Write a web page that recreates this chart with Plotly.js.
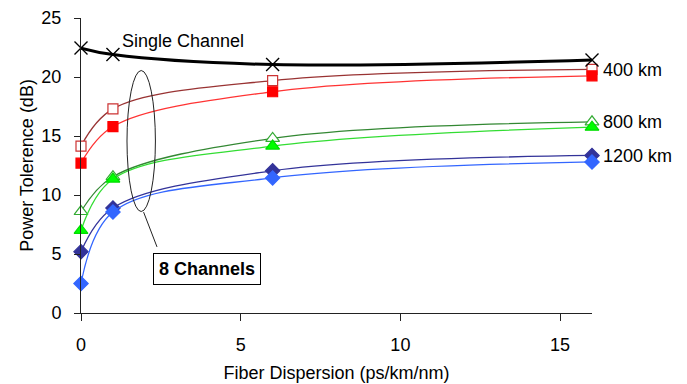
<!DOCTYPE html>
<html>
<head>
<meta charset="utf-8">
<script src="https://cdn.plot.ly/plotly-3.0.1.min.js"></script>
<style>html,body{margin:0;padding:0;background:#fff;}#chart{width:687px;height:384px;}</style>
</head>
<body>
<div id="chart"></div>
<script>
const dispersion = [0, 1, 6, 16];
const singleChannel = [22.45, 21.9, 21.05, 21.45];
const ch8_400_open = [14.15, 17.3, 19.7, 20.65];
const ch8_400_fill = [12.7, 15.8, 18.75, 20.1];
const ch8_800_open = [8.6, 11.55, 14.8, 16.2];
const ch8_800_fill = [7.0, 11.35, 14.15, 15.75];
const ch8_1200_navy = [5.2, 8.9, 12.05, 13.35];
const ch8_1200_blue = [2.5, 8.55, 11.45, 12.8];
const xTicks = [0, 5, 10, 15];
const yTicks = [0, 5, 10, 15, 20, 25];
const distLabels = ["400 km", "800 km", "1200 km"];
const distLabelY = [20.6, 16.2, 13.3];

const FONT = "Liberation Sans, Arial, sans-serif";

function tr(y, lineColor, lineWidth, symbol, mColor, mLine, size) {
  return {
    x: dispersion, y: y, type: "scatter", mode: "lines+markers",
    line: {color: lineColor, width: lineWidth, shape: "spline", smoothing: 1},
    marker: {symbol: symbol, size: size, color: mColor, line: {color: mLine, width: 1.2}},
    cliponaxis: false, showlegend: false
  };
}

const data = [
  tr(ch8_1200_navy, "#333399", 1.3, "diamond", "#333399", "#333399", 11),
  tr(ch8_1200_blue, "#3366FF", 1.3, "diamond", "#3366FF", "#3366FF", 11),
  tr(ch8_800_open, "#338833", 1.3, "triangle-up", "#FFFFFF", "#33AA33", 12),
  tr(ch8_800_fill, "#33DD33", 1.3, "triangle-up", "#00FF00", "#00DD00", 12),
  tr(ch8_400_open, "#993333", 1.3, "square", "#FFFFFF", "#CC3333", 10),
  tr(ch8_400_fill, "#FF3333", 1.3, "square", "#FF0000", "#FF0000", 10),
  tr(singleChannel, "#000000", 3, "x-thin", "#000000", "#000000", 13)
];
data[6].marker.line = {color: "#000000", width: 1.4};

const annotations = [
  {x: 3.2, y: 23.05, xref: "x", yref: "y", text: "Single Channel", showarrow: false,
   font: {family: FONT, size: 18, color: "#000"}},
  {x: 3.93, y: 3.75, xref: "x", yref: "y", text: "<b>8 Channels</b>", showarrow: false,
   font: {family: FONT, size: 18, color: "#000"}, bordercolor: "#000", borderwidth: 1,
   borderpad: 5, bgcolor: "#fff"}
];
distLabels.forEach((t, i) => annotations.push({
  x: 16, y: distLabelY[i], xref: "x", yref: "y", text: t, showarrow: false,
  xanchor: "left", xshift: 9, font: {family: FONT, size: 18, color: "#000"}
}));

const layout = {
  width: 687, height: 384,
  margin: {l: 81, r: 95, t: 18, b: 71},
  paper_bgcolor: "#fff", plot_bgcolor: "#fff",
  font: {family: FONT, size: 18, color: "#000"},
  xaxis: {
    range: [0, 16], tickvals: xTicks, ticks: "outside", ticklen: 7, tickcolor: "#222",
    showline: true, linecolor: "#222", linewidth: 1, showgrid: false, zeroline: false,
    ticklabelstandoff: 8,
    title: {text: "Fiber Dispersion (ps/km/nm)", font: {family: FONT, size: 18}, standoff: 12}
  },
  yaxis: {
    range: [0, 25], tickvals: yTicks, ticks: "outside", ticklen: 6, tickcolor: "#222",
    showline: true, linecolor: "#222", linewidth: 1, showgrid: false, zeroline: false,
    ticklabelstandoff: 9,
    title: {text: "Power Tolerence (dB)", font: {family: FONT, size: 18}, standoff: 3}
  },
  shapes: [
    {type: "circle", xref: "x", yref: "y", x0: 1.44, x1: 2.33, y0: 8.6, y1: 20.55,
     line: {color: "#222", width: 1}},
    {type: "line", xref: "x", yref: "y", x0: 1.96, y0: 8.55, x1: 2.38, y1: 5.6,
     line: {color: "#222", width: 1}}
  ],
  annotations: annotations
};

Plotly.newPlot("chart", data, layout, {displayModeBar: false, staticPlot: true});
</script>
</body>
</html>
